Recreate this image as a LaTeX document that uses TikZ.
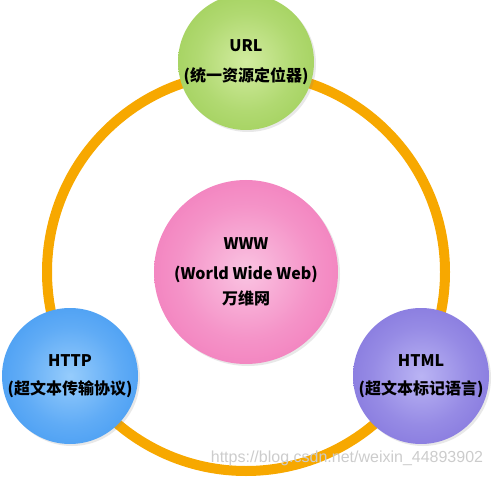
\documentclass[tikz,border=0pt]{standalone}
\usepackage{fontspec}
\setmainfont{Noto Sans CJK SC}
\newfontfamily\wmfont{Liberation Sans}
\usetikzlibrary{shadows}

\definecolor{ringc}{RGB}{247,168,0}
\definecolor{urlin}{RGB}{210,236,160}
\definecolor{urlout}{RGB}{136,194,56}
\definecolor{wwwin}{RGB}{250,196,226}
\definecolor{wwwout}{RGB}{238,88,168}
\definecolor{httpin}{RGB}{150,204,252}
\definecolor{httpout}{RGB}{30,132,238}
\definecolor{htmlin}{RGB}{186,180,244}
\definecolor{htmlout}{RGB}{106,88,210}

\pgfdeclareradialshading{urlball}{\pgfpoint{0bp}{0bp}}{color(0bp)=(urlin); color(18bp)=(urlin!55!urlout); color(50bp)=(urlout); color(100bp)=(urlout)}
\pgfdeclareradialshading{wwwball}{\pgfpoint{0bp}{0bp}}{color(0bp)=(wwwin); color(18bp)=(wwwin!55!wwwout); color(50bp)=(wwwout); color(100bp)=(wwwout)}
\pgfdeclareradialshading{httpball}{\pgfpoint{0bp}{0bp}}{color(0bp)=(httpin); color(18bp)=(httpin!55!httpout); color(50bp)=(httpout); color(100bp)=(httpout)}
\pgfdeclareradialshading{htmlball}{\pgfpoint{0bp}{0bp}}{color(0bp)=(htmlin); color(18bp)=(htmlin!55!htmlout); color(50bp)=(htmlout); color(100bp)=(htmlout)}

\begin{document}
\begin{tikzpicture}[x=1pt,y=-1pt]
    \tikzstyle{B}=[circle,minimum size=136pt,inner sep=0pt,align=center,
        font=\fontsize{16}{20}\selectfont\bfseries,
        drop shadow={opacity=0.18,shadow xshift=2pt,shadow yshift=-2pt}]
    \tikzstyle{R}=[line width=10pt,color=ringc]
    \tikzstyle{W}=[font=\wmfont\fontsize{16}{16}\selectfont,text=black!20]

    \useasboundingbox (0,0) rectangle (492,478);

    % Ring
    \coordinate (c) at (246,272);
    \draw [R] (c) circle (199pt);

    % Balls
    \node [B,shading=wwwball,minimum size=184pt] (www) at (c)
        {WWW\\[10pt](World Wide Web)\\[5pt]万维网};
    \node [B,shading=urlball]  (url)  at (246,62)  {URL\\[10pt](统一资源定位器)};
    \node [B,shading=httpball] (http) at (70,376)  {HTTP\\[8pt](超文本传输协议)};
    \node [B,shading=htmlball] (html) at (421,376) {HTML\\[8pt](超文本标记语言)};

    % Watermark
    \node [W] (wm) at (347,458) {https://blog.csdn.net/weixin\_44893902};
\end{tikzpicture}
\end{document}
